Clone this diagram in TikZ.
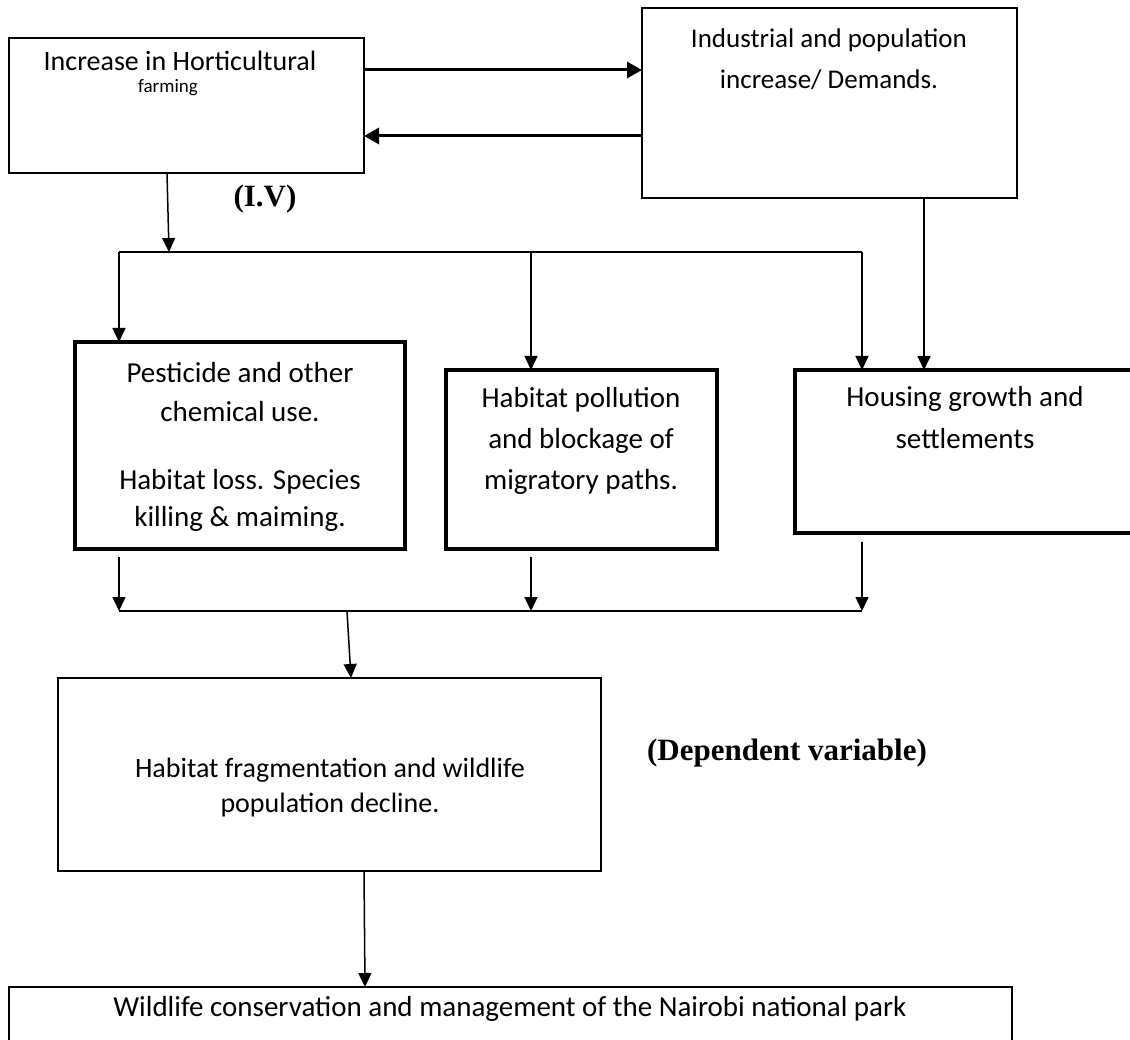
\documentclass[tikz,border=0pt]{standalone}
\usepackage{fontspec}
\setmainfont{Carlito}
\newfontfamily\serifbold{Liberation Serif}
\usetikzlibrary{arrows.meta}
\begin{document}
\begin{tikzpicture}[x=1pt,y=-1pt,
  thinbox/.style={draw, line width=1.6pt, inner sep=0pt, outer sep=0pt, anchor=north west},
  thickbox/.style={draw, line width=3.6pt, inner sep=0pt, outer sep=0pt, anchor=north west},
  txt/.style={anchor=base, inner sep=0pt, font=\fontsize{27}{33}\selectfont},
  txtm/.style={anchor=base, inner sep=0pt, font=\fontsize{28}{34}\selectfont},
  txtl/.style={anchor=base, inner sep=0pt, font=\fontsize{29}{35}\selectfont},
  smalltxt/.style={anchor=base, inner sep=0pt, font=\fontsize{19}{23}\selectfont},
  lbl/.style={anchor=base, inner sep=0pt, font=\serifbold\bfseries\fontsize{31}{36}\selectfont},
  wire/.style={line width=1.5pt},
  conn/.style={line width=1.5pt, -{Triangle[length=14pt,width=13pt]}},
  boldconn/.style={line width=3pt, -{Triangle[length=15pt,width=16pt]}}]
\useasboundingbox (0,0) rectangle (1130,1040);
\clip (0,0) rectangle (1130,1040);

% boxes
\node[thinbox, minimum width=355pt, minimum height=135pt] (A) at (9,38) {};
\node[thinbox, minimum width=375pt, minimum height=190pt] (B) at (642,8) {};
\node[thickbox, minimum width=330pt, minimum height=207pt] (C) at (75,342) {};
\node[thickbox, minimum width=271pt, minimum height=179pt] (D) at (446,370) {};
\node[thickbox, minimum width=400pt, minimum height=163pt] (E) at (795,370) {};
\node[thinbox, minimum width=543pt, minimum height=193pt] (F) at (58,678) {};
\node[thinbox, minimum width=1003pt, minimum height=120pt] (G) at (9,987) {};

% texts
\node[txtm] (tA1) at (180,71) {Increase in Horticultural};
\node[smalltxt] (tA2) at (168,93) {farming};
\node[txt] (tB1) at (829,48) {Industrial and population};
\node[txt] (tB2) at (829,89) {increase/ Demands.};
\node[txtl] (tC1) at (240,383) {Pesticide and other};
\node[txtl] (tC2) at (240,422) {chemical use.};
\node[txtl] (tC3) at (240,489) {Habitat loss. Species};
\node[txtl] (tC4) at (240,526) {killing \& maiming.};
\node[txtl] (tD1) at (581,408) {Habitat pollution};
\node[txtl] (tD2) at (581,448) {and blockage of};
\node[txtl] (tD3) at (581,489) {migratory paths.};
\node[txtl] (tE1) at (965,407) {Housing growth and};
\node[txtl] (tE2) at (965,448) {settlements};
\node[txtm] (tF1) at (330,777) {Habitat fragmentation and wildlife};
\node[txtm] (tF2) at (330,812) {population decline.};
\node[txtl] (tG1) at (510,1016) {Wildlife conservation and management of the Nairobi national park};
\node[lbl] (IV) at (265,207) {(I.V)};
\node[lbl] (DV) at (787,760) {(Dependent variable)};

% junction points
\coordinate (d1) at (119,252);
\coordinate (d2) at (862,252);
\coordinate (d3) at (531,252);
\coordinate (e1) at (119,611);
\coordinate (e2) at (862,611);
\coordinate (e3) at (531,611);
\coordinate (e4) at (347,611);

% A <-> B
\draw[boldconn] (A.east |- 0,70) -- (B.west |- 0,70);
\draw[boldconn] (B.west |- 0,136) -- (A.east |- 0,136);

% top distribution
\draw[conn] (A.south -| 167,0) -- (169,0 |- d1);
\draw[wire] (d1) -- (d2);
\draw[conn] (d1) -- (C.north -| d1);
\draw[conn] (d3) -- (D.north -| d3);
\draw[conn] (d2) -- (E.north -| d2);
\draw[conn] (B.south -| 924,0) -- (E.north -| 924,0);

% bottom collection
\draw[conn, shorten <=8pt] (C.south -| e1) -- (e1);
\draw[conn, shorten <=8pt] (D.south -| e3) -- (e3);
\draw[conn, shorten <=9pt] (E.south -| e2) -- (e2);
\draw[wire] (e1) -- (e2);
\draw[conn] (e4) -- (351,0 |- F.north);
\draw[conn] (F.south -| 364,0) -- (365,0 |- G.north);
\end{tikzpicture}
\end{document}
